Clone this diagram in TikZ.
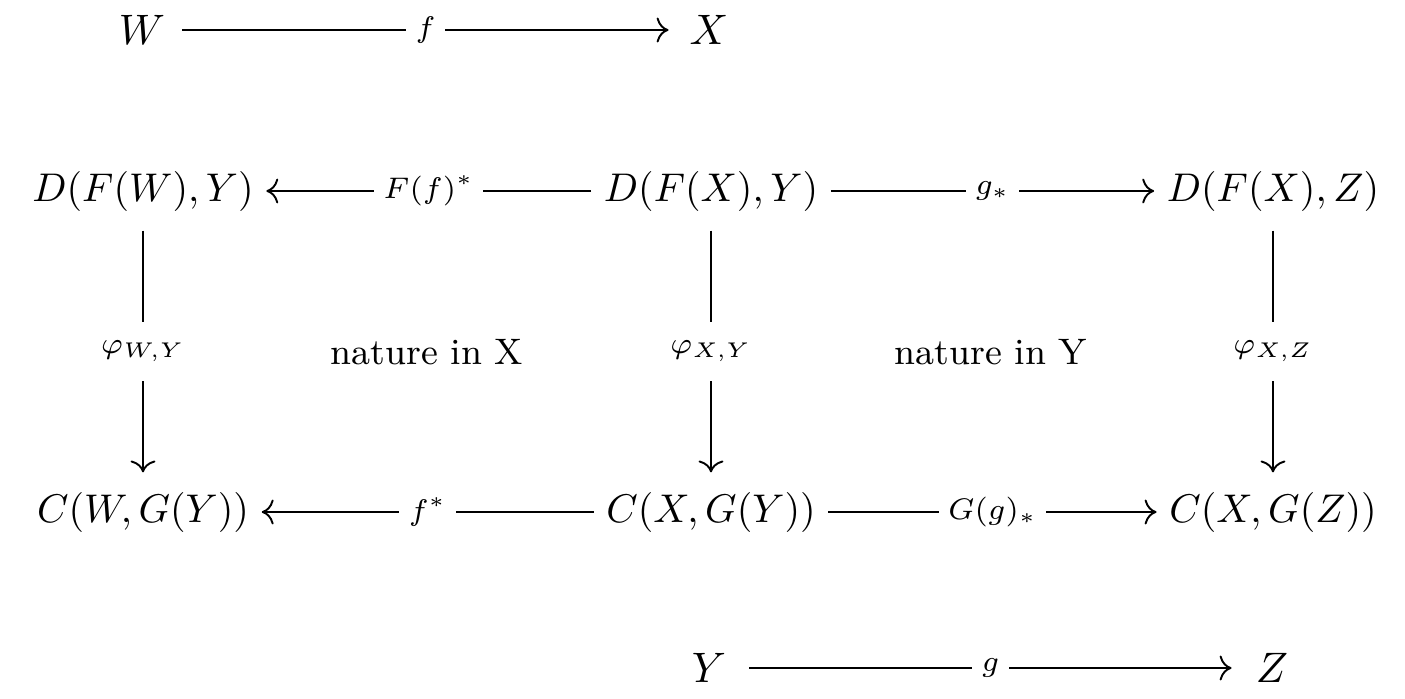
\documentclass[tikz,border=0pt]{standalone}
\usepackage{graphicx}
\usetikzlibrary{cd}
\newcommand\mob[1]{\scalebox{0.94}{$#1$}}
\begin{document}
\begin{tikzpicture}[x=0.2347pt,y=-0.2347pt,
  obj/.style={inner sep=0pt, outer xsep=3pt, outer ysep=4.6pt},
  single/.style={obj, minimum width=13pt},
  arr/.style={-cm to, line width=0.45pt},
  lab/.style={fill=white, inner sep=2.2pt, font=\scriptsize},
  vlab/.style={fill=white, inner sep=0pt, minimum height=14pt, font=\scriptsize},
  txt/.style={font=\fontsize{8.65}{10}\selectfont}]
\useasboundingbox (0,0) rectangle (1405,699);
% objects
\node[single] (W) at (142,30) {$W$};
\node[single] (X) at (709,30) {$X$};
\node[obj] (DW) at (143,191) {\mob{D(F(W),Y)}};
\node[obj] (DX) at (711,191) {\mob{D(F(X),Y)}};
\node[obj] (DZ) at (1273,191) {\mob{D(F(X),Z)}};
\node[obj] (CW) at (143,512) {\mob{C(W,G(Y))}};
\node[obj] (CX) at (711,512) {\mob{C(X,G(Y))}};
\node[obj] (CZ) at (1273,512) {\mob{C(X,G(Z))}};
\node[single] (Y) at (709,668) {$Y$};
\node[single] (Z) at (1272,668) {$Z$};
\node[txt] (natX) at (427,352) {nature in X};
\node[txt] (natY) at (991,352) {nature in Y};
% arrows
\draw[arr] (W) -- node[lab] {$f$} (X);
\draw[arr] (DX) -- node[lab] {$F(f)^*$} (DW);
\draw[arr] (DX) -- node[lab] {$g_*$} (DZ);
\draw[arr] (DW) -- node[vlab] {$\varphi_{W,Y}$} (CW);
\draw[arr] (DX) -- node[vlab] {$\varphi_{X,Y}$} (CX);
\draw[arr] (DZ) -- node[vlab] {$\varphi_{X,Z}$} (CZ);
\draw[arr] (CX) -- node[lab] {$f^*$} (CW);
\draw[arr] (CX) -- node[lab] {$G(g)_*$} (CZ);
\draw[arr] (Y) -- node[lab] {$g$} (Z);
\end{tikzpicture}
\end{document}
